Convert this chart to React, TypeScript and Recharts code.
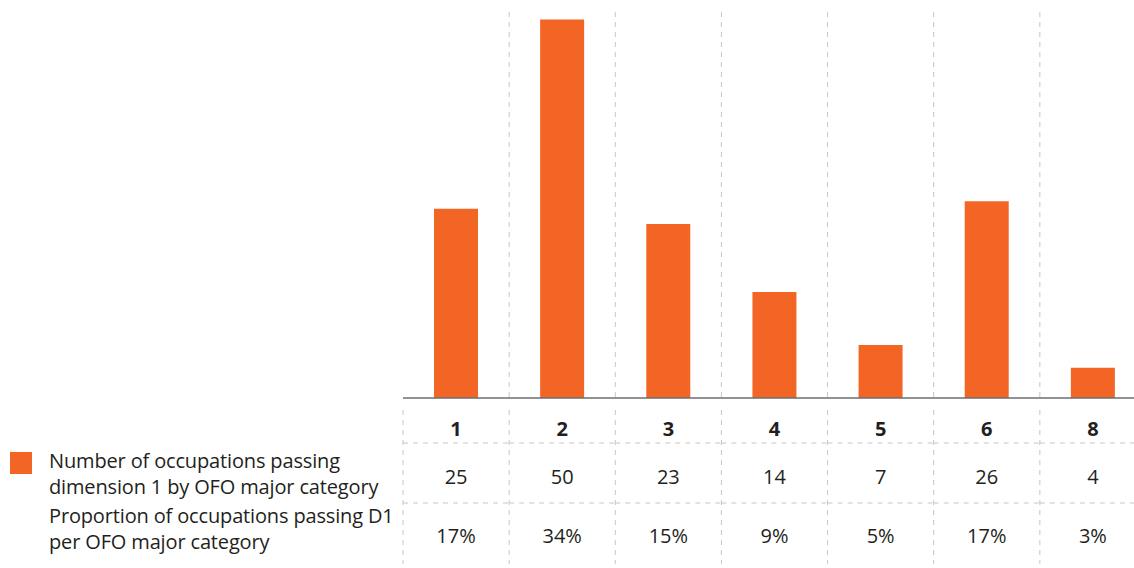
import React from 'react';
import { ComposedChart, Bar, XAxis, YAxis, CartesianGrid, Legend } from 'recharts';

const categories = ['1', '2', '3', '4', '5', '6', '8'];
const counts = [25, 50, 23, 14, 7, 26, 4];
const proportions = ['17%', '34%', '15%', '9%', '5%', '17%', '3%'];
const countLabel = ['Number of occupations passing', 'dimension 1 by OFO major category'];
const proportionLabel = ['Proportion of occupations passing D1', 'per OFO major category'];

const data = categories.map((cat, i) => ({ cat, count: counts[i] }));

const ORANGE = '#F26524';
const GRID = '#c6c6c6';
const TEXT = '#231f20';
const FONT = '"Open Sans", sans-serif';

// table rows under the axis, drawn per tick
const TableTick = (props: any) => {
  const { x, y, payload } = props;
  const i = categories.indexOf(payload.value);
  const half = payload.offset || 53;
  const left = x - half;
  const right = x + half;
  return (
    <g>
      <line x1={left} x2={left} y1={y + 12} y2={y + 166} stroke={GRID} strokeDasharray="5 5" />
      {i === categories.length - 1 && (
        <line x1={right} x2={right} y1={y + 12} y2={y + 166} stroke={GRID} strokeDasharray="5 5" />
      )}
      <line x1={left} x2={right} y1={y + 45} y2={y + 45} stroke={GRID} strokeDasharray="5 5" />
      <line x1={left} x2={right} y1={y + 105} y2={y + 105} stroke={GRID} strokeDasharray="5 5" />
      <text x={x} y={y + 30} textAnchor="middle" dominantBaseline="central" fontSize={20} fontWeight="bold" fill={TEXT} fontFamily={FONT}>
        {payload.value}
      </text>
      <text x={x} y={y + 78} textAnchor="middle" dominantBaseline="central" fontSize={20} fill={TEXT} fontFamily={FONT}>
        {counts[i]}
      </text>
      <text x={x} y={y + 137} textAnchor="middle" dominantBaseline="central" fontSize={20} fill={TEXT} fontFamily={FONT}>
        {proportions[i]}
      </text>
    </g>
  );
};

// zero-height box so the legend takes no room from the plot
const renderLegend = () => (
  <div style={{ position: 'relative', height: 0, overflow: 'visible' }}>
    <div style={{ position: 'absolute', left: 0, top: 0, width: 400, fontFamily: FONT, fontSize: 20, color: TEXT, lineHeight: '26px', letterSpacing: -0.15 }}>
      <div style={{ position: 'absolute', left: 10, top: 4, width: 22, height: 22, background: ORANGE }} />
      <div style={{ marginLeft: 49 }}>
        {countLabel.map((t) => (
          <div key={t}>{t}</div>
        ))}
        <div style={{ marginTop: 3 }}>
          {proportionLabel.map((t) => (
            <div key={t}>{t}</div>
          ))}
        </div>
      </div>
    </div>
  </div>
);

export default function App() {
  return (
    <div style={{ position: 'absolute', left: 0, top: 0, width: 1134, height: 568, overflow: 'hidden', background: '#fff' }}>
      <ComposedChart width={1146} height={568} data={data} margin={{ top: 12, right: 0, left: 403, bottom: 140 }}>
        <CartesianGrid
          horizontal={false}
          stroke={GRID}
          strokeDasharray="5 5"
          verticalCoordinatesGenerator={({ offset }: any) =>
            categories.slice(1).map((_, i) => offset.left + ((i + 1) * offset.width) / categories.length)
          }
        />
        <XAxis
          dataKey="cat"
          height={30}
          axisLine={{ stroke: '#6d6e71', strokeWidth: 1.5 }}
          tickLine={false}
          tickSize={0}
          tickMargin={0}
          tick={<TableTick />}
          interval={0}
        />
        <YAxis hide domain={[0, 51]} />
        <Legend
          content={renderLegend}
          height={0}
          wrapperStyle={{ position: 'absolute', left: 0, top: 448, width: 400, height: 0 }}
        />
        <Bar dataKey="count" fill={ORANGE} barSize={44} isAnimationActive={false} />
      </ComposedChart>
    </div>
  );
}
